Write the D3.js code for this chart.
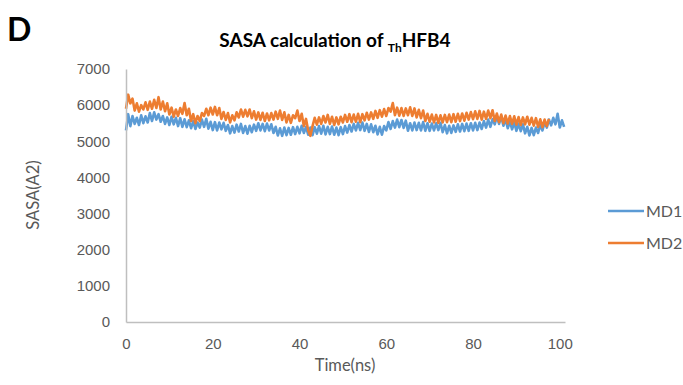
<!DOCTYPE html>
<html>
<head>
<meta charset="utf-8">
<script src="https://cdn.jsdelivr.net/npm/d3@7"></script>
<style>
  html, body { margin: 0; padding: 0; background: #fff; }
  svg { display: block; font-family: Lato, 'Open Sans', sans-serif; }
</style>
</head>
<body>
<svg id="chart" width="683" height="385"></svg>
<script>
// SASA values (A2), one sample every 0.5 ns
const timeStep = 0.5;
const md1 = [
  5300, 5750, 5420, 5700, 5480, 5650, 5450, 5720, 5500, 5690,
  5520, 5780, 5560, 5800, 5600, 5750, 5540, 5700, 5480, 5660,
  5450, 5680, 5470, 5650, 5420, 5640, 5400, 5610, 5390, 5580,
  5360, 5560, 5340, 5520, 5380, 5600, 5400, 5620, 5350, 5540,
  5310, 5530, 5300, 5520, 5330, 5510, 5290, 5450, 5220, 5420,
  5240, 5460, 5270, 5480, 5230, 5420, 5210, 5430, 5250, 5460,
  5290, 5500, 5300, 5480, 5280, 5490, 5300, 5470, 5230, 5400,
  5160, 5360, 5150, 5380, 5170, 5370, 5180, 5390, 5200, 5400,
  5220, 5430, 5230, 5400, 5180, 5380, 5170, 5390, 5210, 5420,
  5210, 5430, 5190, 5400, 5200, 5410, 5180, 5380, 5170, 5390,
  5200, 5420, 5240, 5450, 5270, 5480, 5300, 5510, 5310, 5520,
  5290, 5480, 5260, 5470, 5250, 5430, 5190, 5400, 5180, 5420,
  5300, 5530, 5340, 5560, 5380, 5600, 5390, 5590, 5370, 5570,
  5290, 5500, 5300, 5520, 5310, 5510, 5300, 5530, 5290, 5500,
  5290, 5490, 5300, 5500, 5310, 5510, 5250, 5450, 5220, 5430,
  5230, 5440, 5260, 5470, 5270, 5480, 5280, 5490, 5290, 5500,
  5300, 5510, 5310, 5520, 5340, 5560, 5380, 5600, 5400, 5610,
  5470, 5690, 5480, 5700, 5430, 5620, 5360, 5550, 5330, 5520,
  5290, 5490, 5280, 5470, 5220, 5400, 5160, 5370, 5170, 5380,
  5230, 5450, 5300, 5520, 5380, 5600, 5440, 5650, 5470, 5760,
  5380, 5580, 5400
];
const md2 = [
  5900, 6290, 6050, 6180, 5850, 6050, 5820, 6000, 5880, 6080,
  5870, 6100, 5900, 6150, 5920, 6220, 5880, 6100, 5830, 6050,
  5740, 5930, 5680, 5880, 5700, 5920, 5760, 6060, 5720, 5900,
  5560, 5750, 5500, 5700, 5560, 5780, 5700, 5900, 5720, 5930,
  5740, 5950, 5720, 5920, 5620, 5810, 5590, 5780, 5520, 5720,
  5580, 5800, 5660, 5880, 5680, 5870, 5690, 5880, 5640, 5830,
  5600, 5800, 5590, 5790, 5560, 5770, 5580, 5780, 5600, 5820,
  5620, 5850, 5590, 5800, 5520, 5730, 5510, 5720, 5640, 5850,
  5560, 5760, 5420, 5620, 5300, 5150, 5420, 5650, 5460, 5660,
  5480, 5700, 5520, 5730, 5480, 5680, 5450, 5660, 5470, 5680,
  5520, 5730, 5540, 5750, 5530, 5740, 5540, 5760, 5530, 5750,
  5580, 5790, 5600, 5800, 5620, 5840, 5650, 5860, 5680, 5890,
  5700, 5920, 5820, 6060, 5720, 5930, 5710, 5920, 5700, 5910,
  5720, 5940, 5700, 5910, 5660, 5870, 5640, 5850, 5560, 5760,
  5540, 5740, 5520, 5730, 5510, 5720, 5520, 5730, 5530, 5740,
  5530, 5750, 5540, 5760, 5560, 5770, 5570, 5790, 5600, 5810,
  5610, 5830, 5620, 5840, 5600, 5820, 5620, 5850, 5640, 5860,
  5560, 5770, 5530, 5740, 5500, 5710, 5490, 5700, 5480, 5690,
  5460, 5670, 5450, 5660, 5470, 5680, 5460, 5650, 5430, 5640,
  5400, 5610, 5390, 5600, 5420, 5620
];
const seriesNames = ['MD1', 'MD2'];
const seriesColors = ['#5B9BD5', '#ED7D31'];
const xTicks = [0, 20, 40, 60, 80, 100];
const yTicks = [0, 1000, 2000, 3000, 4000, 5000, 6000, 7000];

const svg = d3.select('#chart');
const margin = { top: 69, left: 126 };
const innerWidth = 439;
const innerHeight = 253;
const fontFamily = 'Lato, "Open Sans", sans-serif';

const g = svg.append('g')
  .attr('transform', `translate(${margin.left},${margin.top})`);

const xScale = d3.scaleLinear().domain([0, 101.2]).range([0, innerWidth]);
const yScale = d3.scaleLinear().domain([0, 7000]).range([innerHeight, 0]);

// Series lines
const line = d3.line()
  .x((d, i) => xScale(i * timeStep))
  .y(d => yScale(d));

[md1, md2].forEach((values, k) => {
  g.append('path')
    .datum(values)
    .attr('fill', 'none')
    .attr('stroke', seriesColors[k])
    .attr('stroke-width', 2.6)
    .attr('stroke-linejoin', 'round')
    .attr('d', line);
});

// Axes
g.append('g')
  .attr('transform', `translate(0,${innerHeight})`)
  .attr('font-family', fontFamily)
  .call(d3.axisBottom(xScale).tickValues(xTicks).tickSize(0).tickPadding(16).tickFormat(d3.format('d')))
  .call(a => a.select('.domain').attr('stroke', '#BFBFBF').attr('stroke-width', 1.5))
  .selectAll('text')
  .attr('fill', '#595959')
  .attr('font-size', '15px');

g.append('g')
  .attr('font-family', fontFamily)
  .call(d3.axisLeft(yScale).tickValues(yTicks).tickSize(0).tickPadding(16).tickFormat(d3.format('d')))
  .call(a => a.select('.domain').attr('stroke', '#BFBFBF').attr('stroke-width', 1.5))
  .selectAll('text')
  .attr('fill', '#595959')
  .attr('font-size', '15px');

// Axis titles
svg.append('text')
  .attr('x', 345)
  .attr('y', 371)
  .attr('text-anchor', 'middle')
  .attr('fill', '#595959')
  .attr('font-size', '16.5px')
  .text('Time(ns)');

svg.append('text')
  .attr('transform', 'translate(39,195) rotate(-90)')
  .attr('text-anchor', 'middle')
  .attr('fill', '#595959')
  .attr('font-size', '16.5px')
  .text('SASA(A2)');

// Chart title with subscript
const title = svg.append('text')
  .attr('x', 335)
  .attr('y', 47)
  .attr('text-anchor', 'middle')
  .attr('font-size', '19px')
  .attr('font-weight', 'bold')
  .attr('fill', '#000');
title.append('tspan').text('SASA calculation of ');
title.append('tspan').attr('font-size', '12px').attr('dy', 5).text('Th');
title.append('tspan').attr('dy', -5).text('HFB4');

// Panel letter
svg.append('text')
  .attr('x', 7)
  .attr('y', 41)
  .attr('font-size', '32px')
  .attr('font-weight', 'bold')
  .attr('fill', '#000')
  .text('D');

// Legend
const legend = svg.append('g');
seriesNames.forEach((name, k) => {
  const y = 211 + k * 32;
  legend.append('line')
    .attr('x1', 608).attr('x2', 644)
    .attr('y1', y).attr('y2', y)
    .attr('stroke', seriesColors[k])
    .attr('stroke-width', 2.5);
  legend.append('text')
    .attr('x', 646)
    .attr('y', y)
    .attr('dy', '0.35em')
    .attr('fill', '#595959')
    .attr('font-size', '16px')
    .text(name);
});
</script>
</body>
</html>
